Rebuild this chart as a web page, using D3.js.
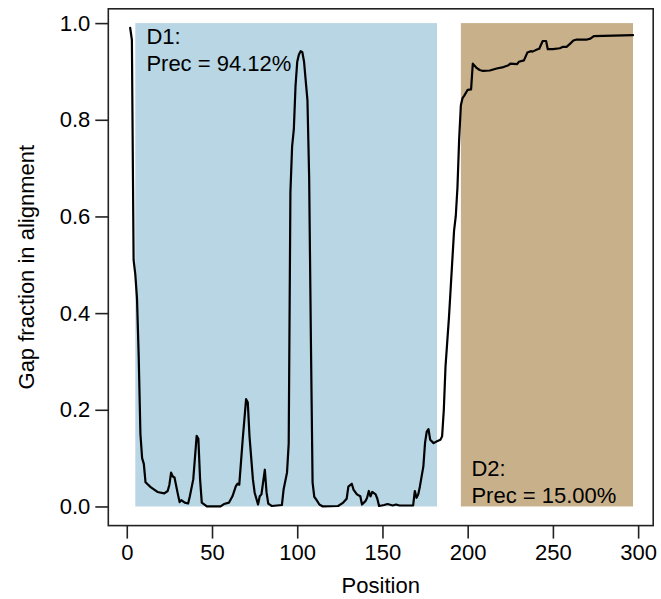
<!DOCTYPE html>
<html><head><meta charset="utf-8">
<script src="https://cdn.jsdelivr.net/npm/d3@7"></script>
<style>body{margin:0;background:#fff}svg{display:block}text{font-family:"Liberation Sans",Arial,Helvetica,sans-serif}</style>
</head><body><div id="chart"></div>
<script>
// Data
const positions = [2,3,4,5,6,7,8,9,10,11,14,18,22,24,25,26,27,28,30,31,32,34,36,37,39,41,42,43,44,47,55,57,60,62,64,65,66,68,70,71,72,74,75,77,78,79,81,82,83,85,91,92,94,95,96,97,98,99,100,101,102,103,104,105,106,107,108,109,110,111,113,115,124,127,129,130,132,133,135,137,138,140,141,142,143,144,146,147,148,151,153,156,158,160,168,169,170,171,172,174,175,176,177,178,180,182,184,185,186,187,188,189,190,192,193,194,195,196,197,198,200,202,203,205,207,209,213,217,221,224,225,229,230,233,235,237,238,241,242,244,246,247,250,254,256,258,260,262,264,270,272,274,297];
const gapFraction = [0.99,0.965,0.51,0.48,0.43,0.31,0.15,0.10,0.088,0.05,0.04,0.03,0.027,0.032,0.045,0.07,0.062,0.06,0.025,0.009,0.013,0.008,0.006,0.021,0.056,0.146,0.14,0.056,0.008,0,0,0.005,0.008,0.021,0.042,0.047,0.045,0.138,0.222,0.215,0.145,0.056,0.029,0.004,0.021,0.025,0.076,0.029,0.006,0.001,0.003,0.035,0.07,0.13,0.65,0.745,0.78,0.87,0.92,0.935,0.942,0.94,0.92,0.88,0.84,0.68,0.35,0.05,0.02,0.015,0.004,0,0.001,0.008,0.016,0.041,0.047,0.035,0.025,0.021,0.004,0.011,0.018,0.032,0.021,0.03,0.025,0.016,0.001,0.003,0.005,0.002,0.004,0.002,0.002,0.032,0.018,0.025,0.042,0.083,0.132,0.155,0.16,0.138,0.131,0.135,0.138,0.145,0.2,0.29,0.34,0.39,0.45,0.57,0.6,0.66,0.76,0.83,0.845,0.85,0.862,0.863,0.916,0.908,0.903,0.901,0.902,0.906,0.909,0.913,0.916,0.915,0.92,0.923,0.939,0.942,0.941,0.946,0.947,0.963,0.963,0.946,0.946,0.948,0.951,0.951,0.957,0.964,0.966,0.966,0.968,0.973,0.975];

const domainNames = ["D1", "D2"];
const domainStart = [5, 196];
const domainEnd = [182, 297];
const domainPrec = ["94.12%", "15.00%"];
const domainColors = ["#B8D6E4", "#C8B08B"];

const xTicks = [0, 50, 100, 150, 200, 250, 300];
const yTicks = [0, 0.2, 0.4, 0.6, 0.8, 1.0];

const W = 661, H = 599;
const svg = d3.select("#chart").append("svg").attr("width", W).attr("height", H);

const pLeft = 108.3, pRight = 653.2, pTop = 8.8, pBottom = 525.6;
const xmin = 1, xmax = 297, ymin = 0, ymax = 0.99;
const xext = (xmax - xmin) * 0.04, yext = (ymax - ymin) * 0.04;
const x = d3.scaleLinear().domain([xmin - xext, xmax + xext]).range([pLeft, pRight]);
const y = d3.scaleLinear().domain([ymin - yext, ymax + yext]).range([pBottom, pTop]);

// domain rectangles
svg.selectAll("rect.dom").data(domainNames).enter().append("rect")
  .attr("x", (d, i) => x(domainStart[i]))
  .attr("width", (d, i) => x(domainEnd[i]) - x(domainStart[i]))
  .attr("y", y(1)).attr("height", y(0) - y(1))
  .attr("fill", (d, i) => domainColors[i]);

// line
const pts = positions.map((p, i) => [p, gapFraction[i]]);
svg.append("path").datum(pts)
  .attr("d", d3.line().x(d => x(d[0])).y(d => y(d[1])))
  .attr("fill", "none").attr("stroke", "#000").attr("stroke-width", 2.2)
  .attr("stroke-linejoin", "round").attr("stroke-linecap", "round");

// annotations
const fs = 22;
svg.append("text").attr("x", x(domainStart[0] + 6.5)).attr("y", 44).attr("font-size", fs).text(domainNames[0] + ":");
svg.append("text").attr("x", x(domainStart[0] + 6.5)).attr("y", 71).attr("font-size", fs).text("Prec = " + domainPrec[0]);
svg.append("text").attr("x", x(domainStart[1] + 6.2)).attr("y", 476).attr("font-size", fs).text(domainNames[1] + ":");
svg.append("text").attr("x", x(domainStart[1] + 6.2)).attr("y", 503).attr("font-size", fs).text("Prec = " + domainPrec[1]);

// box
svg.append("rect").attr("x", pLeft).attr("y", pTop).attr("width", pRight - pLeft).attr("height", pBottom - pTop)
  .attr("fill", "none").attr("stroke", "#222").attr("stroke-width", 1.6);

// x axis
const xAxis = d3.axisBottom(x).tickValues(xTicks).tickFormat(d3.format("d")).tickSize(13).tickPadding(6);
const gx = svg.append("g").attr("transform", `translate(0,${pBottom})`).call(xAxis);
gx.select(".domain").remove();
gx.selectAll("line").attr("stroke", "#222").attr("stroke-width", 1.6);
gx.selectAll("text").attr("font-size", fs).attr("fill", "#000").attr("font-family", "Liberation Sans, Arial, sans-serif");

// y axis
const yAxis = d3.axisLeft(y).tickValues(yTicks).tickFormat(d3.format(".1f")).tickSize(13).tickPadding(5);
const gy = svg.append("g").attr("transform", `translate(${pLeft},0)`).call(yAxis);
gy.select(".domain").remove();
gy.selectAll("line").attr("stroke", "#222").attr("stroke-width", 1.6);
gy.selectAll("text").attr("font-size", fs).attr("fill", "#000").attr("font-family", "Liberation Sans, Arial, sans-serif");

// titles
svg.append("text").attr("x", (pLeft + pRight) / 2).attr("y", 593).attr("text-anchor", "middle").attr("font-size", fs).text("Position");
svg.append("text").attr("transform", `translate(34,${(pTop + pBottom) / 2}) rotate(-90)`).attr("text-anchor", "middle").attr("font-size", fs).text("Gap fraction in alignment");
</script></body></html>
